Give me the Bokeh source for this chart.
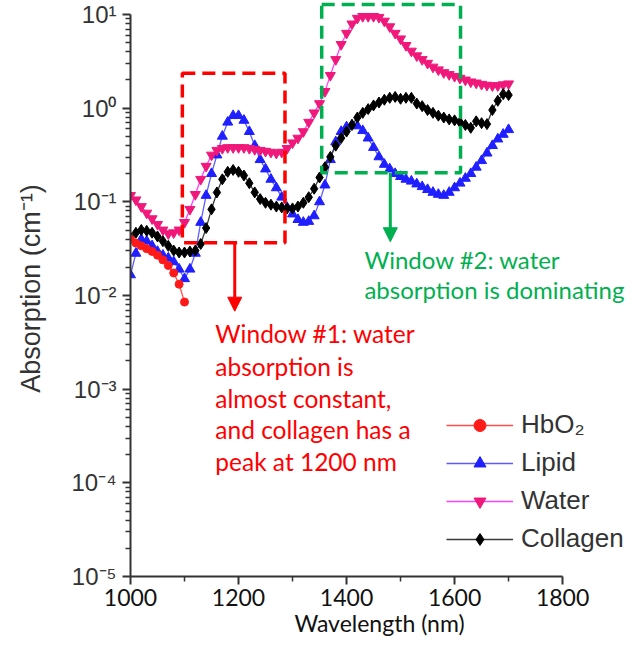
from bokeh.plotting import figure
from bokeh.models import (Legend, LegendItem, BoxAnnotation, Arrow, NormalHead, Label,
                          FixedTicker, CustomJSTickFormatter, Range1d)
from bokeh.embed import file_html
from bokeh.resources import INLINE

# ---------------- data ----------------
wavelength = list(range(1000, 1701, 10))          # nm, shared by lipid / water / collagen
hbo2_wavelength = list(range(1000, 1101, 10))     # nm

hbo2 = [0.0398, 0.0363, 0.0339, 0.0316, 0.0295, 0.0269, 0.0240, 0.0209, 0.0174, 0.0132, 0.00851]

lipid = [0.0166, 0.0282, 0.0398, 0.0380, 0.0339, 0.0295, 0.0269, 0.0251, 0.0229, 0.0191,
         0.0151, 0.0191, 0.0282, 0.0603, 0.117, 0.200, 0.316, 0.501, 0.708, 0.832,
         0.832, 0.741, 0.562, 0.398, 0.282, 0.224, 0.174, 0.141, 0.112, 0.0871,
         0.0741, 0.0646, 0.0603, 0.0617, 0.0708, 0.100, 0.151, 0.282, 0.437, 0.562,
         0.631, 0.661, 0.646, 0.575, 0.479, 0.380, 0.302, 0.251, 0.224, 0.200,
         0.186, 0.174, 0.166, 0.155, 0.145, 0.135, 0.126, 0.120, 0.117, 0.126,
         0.141, 0.158, 0.178, 0.200, 0.234, 0.275, 0.331, 0.398, 0.468, 0.525,
         0.589]

water = [0.117, 0.105, 0.0891, 0.0759, 0.0661, 0.0575, 0.0501, 0.0457, 0.0468, 0.0501,
         0.0603, 0.0832, 0.120, 0.174, 0.240, 0.316, 0.355, 0.372, 0.380, 0.380,
         0.380, 0.380, 0.372, 0.363, 0.355, 0.347, 0.339, 0.331, 0.339, 0.372,
         0.427, 0.479, 0.562, 0.708, 0.891, 1.12, 1.51, 2.24, 3.31, 4.79,
         6.31, 7.94, 9.12, 9.55, 9.55, 9.55, 9.33, 8.51, 7.41, 6.31,
         5.50, 4.68, 4.07, 3.63, 3.31, 3.02, 2.75, 2.57, 2.40, 2.29,
         2.19, 2.09, 2.00, 1.91, 1.86, 1.80, 1.76, 1.74, 1.74, 1.78,
         1.82]

collagen = [0.0417, 0.0468, 0.0501, 0.0490, 0.0468, 0.0427, 0.0380, 0.0339, 0.0302, 0.0288,
            0.0288, 0.0295, 0.0302, 0.0355, 0.0525, 0.0832, 0.126, 0.174, 0.209, 0.219,
            0.209, 0.191, 0.158, 0.126, 0.107, 0.0977, 0.0933, 0.0891, 0.0871, 0.0851,
            0.0851, 0.0891, 0.0977, 0.112, 0.138, 0.182, 0.234, 0.302, 0.398, 0.479,
            0.562, 0.661, 0.794, 0.891, 0.977, 1.07, 1.15, 1.23, 1.29, 1.32,
            1.26, 1.29, 1.29, 1.12, 1.05, 0.955, 0.891, 0.832, 0.794, 0.759,
            0.741, 0.708, 0.661, 0.617, 0.724, 0.692, 0.676, 0.955, 1.20, 1.41,
            1.38]

series_names = ["HbO\u2082", "Lipid", "Water", "Collagen"]

x_major = [1000, 1200, 1400, 1600, 1800]
x_minor = [1100, 1300, 1500, 1700]
y_major = [1e-5, 1e-4, 1e-3, 1e-2, 1e-1, 1, 10]
y_minor = [m * 10.0 ** e for e in range(-5, 1) for m in range(2, 10)]

red_text = ["Window #1: water", "absorption is", "almost constant,",
            "and collagen has a", "peak at 1200 nm"]
green_text = ["Window #2: water", "absorption is dominating"]

# ---------------- figure ----------------
# The frame runs past 1800 nm and above 10 cm^-1 (to the canvas edges) so that the
# annotations are not clipped; the axes themselves are bounded to the reference extents.
p = figure(width=628, height=643, x_range=Range1d(1000, 1922), y_range=Range1d(1e-5, 14.11),
           y_axis_type="log", output_backend="svg", toolbar_location=None,
           min_border_left=130, min_border_right=0, min_border_top=0, min_border_bottom=67,
           background_fill_color="white", border_fill_color="white")
p.outline_line_color = None
p.grid.visible = False

axis_col = "#333333"
for ax in (p.xaxis[0], p.yaxis[0]):
    ax.axis_line_width = 2
    ax.axis_line_color = axis_col
    ax.major_tick_line_color = axis_col
    ax.minor_tick_line_color = axis_col
    ax.major_tick_line_width = 2
    ax.minor_tick_line_width = 1.5
    ax.major_tick_in = 0
    ax.minor_tick_in = 0
    ax.major_tick_out = 8
    ax.minor_tick_out = 5
    ax.axis_label_text_font_style = "normal"

p.xaxis.bounds = (1000, 1800)
p.xaxis.ticker = FixedTicker(ticks=x_major, minor_ticks=x_minor)
p.xaxis.major_label_text_font = "Lato"
p.xaxis.major_label_text_font_size = "23px"
p.xaxis.major_label_text_color = "#111111"
p.xaxis.major_label_standoff = 4
p.xaxis.axis_label = "Wavelength (nm)"
p.xaxis.axis_label_text_font = "Lato"
p.xaxis.axis_label_text_font_size = "23px"
p.xaxis.axis_label_text_color = "#111111"
p.xaxis.axis_label_standoff = 0

p.yaxis.bounds = (1e-5, 10)
p.yaxis.ticker = FixedTicker(ticks=y_major, minor_ticks=y_minor)
p.yaxis.formatter = CustomJSTickFormatter(code="""
const e = Math.round(Math.log10(tick));
const m = {'-': '\\u207B', '0': '\\u2070', '1': '\\u00B9', '2': '\\u00B2', '3': '\\u00B3',
           '4': '\\u2074', '5': '\\u2075'};
return '10' + String(e).split('').map(c => m[c]).join('');
""")
p.yaxis.major_label_text_font = "Liberation Sans"
p.yaxis.major_label_text_font_size = "24px"
p.yaxis.major_label_text_color = axis_col
p.yaxis.major_label_standoff = 6
p.yaxis.axis_label = "Absorption (cm\u207B\u00B9)"
p.yaxis.axis_label_text_font = "Liberation Sans"
p.yaxis.axis_label_text_font_size = "27px"
p.yaxis.axis_label_text_color = axis_col
p.yaxis.axis_label_standoff = 22

# ---------------- series ----------------
lip_l = p.line(wavelength, lipid, line_color="#5c5cff", line_width=1.3)
lip_m = p.scatter(wavelength, lipid, marker="triangle", size=10, fill_color="#1f1fff", line_color="#1f1fff")
wat_l = p.line(wavelength, water, line_color="#ff40ff", line_width=1.3)
wat_m = p.scatter(wavelength, water, marker="inverted_triangle", size=10, fill_color="#f0187a", line_color="#f0187a")
col_l = p.line(wavelength, collagen, line_color="#3a3a3a", line_width=1.3)
col_m = p.scatter(wavelength, collagen, marker="diamond", size=11, fill_color="black", line_color="black")
hb_l = p.line(hbo2_wavelength, hbo2, line_color="#ff4d4d", line_width=1.3)
hb_m = p.scatter(hbo2_wavelength, hbo2, marker="circle", size=8, fill_color="#ff1a1a", line_color="#ff1a1a")

legend = Legend(items=[
    LegendItem(label=series_names[0], renderers=[hb_l, hb_m]),
    LegendItem(label=series_names[1], renderers=[lip_l, lip_m]),
    LegendItem(label=series_names[2], renderers=[wat_l, wat_m]),
    LegendItem(label=series_names[3], renderers=[col_l, col_m]),
], location=(316, 22))
legend.border_line_alpha = 0
legend.background_fill_alpha = 0
legend.padding = 0
legend.margin = 0
legend.spacing = 7
legend.glyph_width = 67
legend.glyph_height = 30
legend.label_height = 30
legend.label_standoff = 8
legend.label_text_font = "Liberation Sans"
legend.label_text_font_size = "26px"
legend.label_text_color = axis_col
p.add_layout(legend, "center")

# ---------------- annotations ----------------
red = "#ff0000"
green = "#00b050"
p.add_layout(BoxAnnotation(left=1096, right=1286, bottom=0.0366, top=2.36, fill_alpha=0,
                           line_color=red, line_alpha=1, line_width=3.5, line_dash="13 7"))
p.add_layout(BoxAnnotation(left=1354, right=1611, bottom=0.204, top=12.8, fill_alpha=0,
                           line_color=green, line_alpha=1, line_width=3.5, line_dash="13 7"))
p.add_layout(Arrow(x_start=1193, y_start=0.0366, x_end=1193, y_end=0.0068,
                   line_color=red, line_width=3,
                   end=NormalHead(size=14, fill_color=red, line_color=red)))
p.add_layout(Arrow(x_start=1481, y_start=0.204, x_end=1481, y_end=0.0375,
                   line_color=green, line_width=3,
                   end=NormalHead(size=14, fill_color=green, line_color=green)))

red_y = [0.00394, 0.00176, 0.000802, 0.000375, 0.000167]
for t, yy in zip(red_text, red_y):
    p.add_layout(Label(x=1157, y=yy, text=t, text_color=red, text_font="Lato",
                       text_font_size="24.5px", text_baseline="middle", text_align="left"))
green_y = [0.0242, 0.0116]
for t, yy in zip(green_text, green_y):
    p.add_layout(Label(x=1433, y=yy, text=t, text_color=green, text_font="Lato",
                       text_font_size="24px", text_baseline="middle", text_align="left"))

open("out.html", "w").write(file_html(p, INLINE))
